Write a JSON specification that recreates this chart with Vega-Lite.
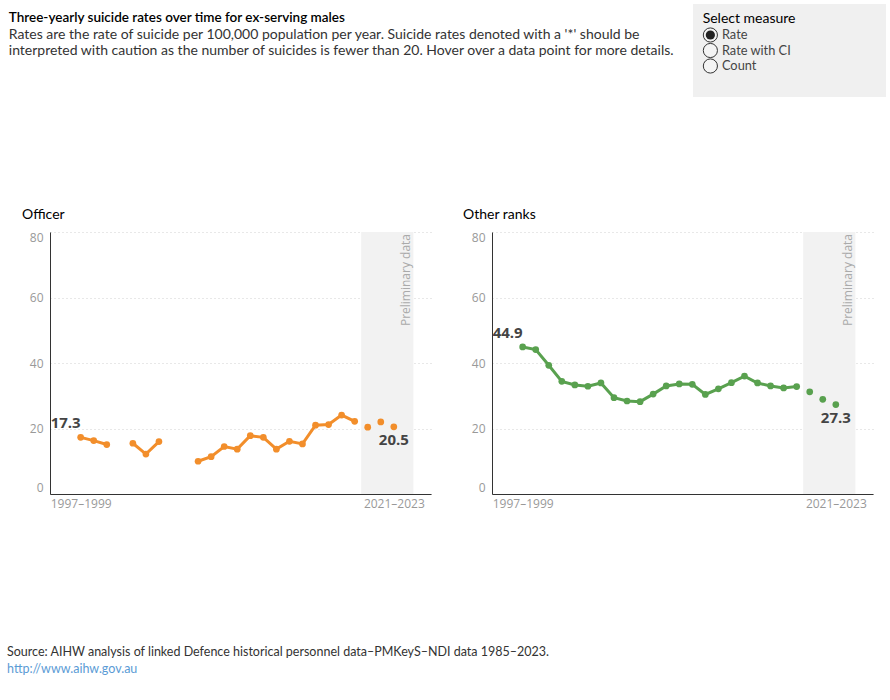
{
  "$schema": "https://vega.github.io/schema/vega-lite/v6.json",
  "padding": {"left": 7, "top": 4, "right": 2, "bottom": 0},
  "background": "white",
  "config": {
    "view": {"stroke": null},
    "font": "Lato",
    "axis": {"labelFont": "Open Sans", "labelFontSize": 12, "labelColor": "#999999", "ticks": false, "title": null, "domainColor": "#333333"}
  },
  "datasets": {
    "rates": [
      {"rank": "Officer", "start": 1997, "period": "1997–1999", "rate": 17.3, "status": "Final"},
      {"rank": "Officer", "start": 1998, "period": "1998–2000", "rate": 16.3, "status": "Final"},
      {"rank": "Officer", "start": 1999, "period": "1999–2001", "rate": 15.1, "status": "Final"},
      {"rank": "Officer", "start": 2000, "period": "2000–2002", "rate": null, "status": "Final"},
      {"rank": "Officer", "start": 2001, "period": "2001–2003", "rate": 15.5, "status": "Final"},
      {"rank": "Officer", "start": 2002, "period": "2002–2004", "rate": 12.2, "status": "Final"},
      {"rank": "Officer", "start": 2003, "period": "2003–2005", "rate": 16.0, "status": "Final"},
      {"rank": "Officer", "start": 2004, "period": "2004–2006", "rate": null, "status": "Final"},
      {"rank": "Officer", "start": 2005, "period": "2005–2007", "rate": null, "status": "Final"},
      {"rank": "Officer", "start": 2006, "period": "2006–2008", "rate": 10.0, "status": "Final"},
      {"rank": "Officer", "start": 2007, "period": "2007–2009", "rate": 11.4, "status": "Final"},
      {"rank": "Officer", "start": 2008, "period": "2008–2010", "rate": 14.5, "status": "Final"},
      {"rank": "Officer", "start": 2009, "period": "2009–2011", "rate": 13.7, "status": "Final"},
      {"rank": "Officer", "start": 2010, "period": "2010–2012", "rate": 17.8, "status": "Final"},
      {"rank": "Officer", "start": 2011, "period": "2011–2013", "rate": 17.3, "status": "Final"},
      {"rank": "Officer", "start": 2012, "period": "2012–2014", "rate": 13.7, "status": "Final"},
      {"rank": "Officer", "start": 2013, "period": "2013–2015", "rate": 16.1, "status": "Final"},
      {"rank": "Officer", "start": 2014, "period": "2014–2016", "rate": 15.3, "status": "Final"},
      {"rank": "Officer", "start": 2015, "period": "2015–2017", "rate": 21.0, "status": "Final"},
      {"rank": "Officer", "start": 2016, "period": "2016–2018", "rate": 21.2, "status": "Final"},
      {"rank": "Officer", "start": 2017, "period": "2017–2019", "rate": 24.1, "status": "Final"},
      {"rank": "Officer", "start": 2018, "period": "2018–2020", "rate": 22.2, "status": "Final"},
      {"rank": "Officer", "start": 2019, "period": "2019–2021", "rate": 20.4, "status": "Preliminary"},
      {"rank": "Officer", "start": 2020, "period": "2020–2022", "rate": 22.0, "status": "Preliminary"},
      {"rank": "Officer", "start": 2021, "period": "2021–2023", "rate": 20.5, "status": "Preliminary"},
      {"rank": "Other ranks", "start": 1997, "period": "1997–1999", "rate": 44.9, "status": "Final"},
      {"rank": "Other ranks", "start": 1998, "period": "1998–2000", "rate": 44.1, "status": "Final"},
      {"rank": "Other ranks", "start": 1999, "period": "1999–2001", "rate": 39.3, "status": "Final"},
      {"rank": "Other ranks", "start": 2000, "period": "2000–2002", "rate": 34.4, "status": "Final"},
      {"rank": "Other ranks", "start": 2001, "period": "2001–2003", "rate": 33.3, "status": "Final"},
      {"rank": "Other ranks", "start": 2002, "period": "2002–2004", "rate": 32.9, "status": "Final"},
      {"rank": "Other ranks", "start": 2003, "period": "2003–2005", "rate": 33.9, "status": "Final"},
      {"rank": "Other ranks", "start": 2004, "period": "2004–2006", "rate": 29.4, "status": "Final"},
      {"rank": "Other ranks", "start": 2005, "period": "2005–2007", "rate": 28.4, "status": "Final"},
      {"rank": "Other ranks", "start": 2006, "period": "2006–2008", "rate": 28.2, "status": "Final"},
      {"rank": "Other ranks", "start": 2007, "period": "2007–2009", "rate": 30.5, "status": "Final"},
      {"rank": "Other ranks", "start": 2008, "period": "2008–2010", "rate": 33.0, "status": "Final"},
      {"rank": "Other ranks", "start": 2009, "period": "2009–2011", "rate": 33.6, "status": "Final"},
      {"rank": "Other ranks", "start": 2010, "period": "2010–2012", "rate": 33.5, "status": "Final"},
      {"rank": "Other ranks", "start": 2011, "period": "2011–2013", "rate": 30.4, "status": "Final"},
      {"rank": "Other ranks", "start": 2012, "period": "2012–2014", "rate": 32.1, "status": "Final"},
      {"rank": "Other ranks", "start": 2013, "period": "2013–2015", "rate": 34.0, "status": "Final"},
      {"rank": "Other ranks", "start": 2014, "period": "2014–2016", "rate": 36.0, "status": "Final"},
      {"rank": "Other ranks", "start": 2015, "period": "2015–2017", "rate": 33.9, "status": "Final"},
      {"rank": "Other ranks", "start": 2016, "period": "2016–2018", "rate": 33.0, "status": "Final"},
      {"rank": "Other ranks", "start": 2017, "period": "2017–2019", "rate": 32.4, "status": "Final"},
      {"rank": "Other ranks", "start": 2018, "period": "2018–2020", "rate": 32.8, "status": "Final"},
      {"rank": "Other ranks", "start": 2019, "period": "2019–2021", "rate": 31.2, "status": "Preliminary"},
      {"rank": "Other ranks", "start": 2020, "period": "2020–2022", "rate": 28.9, "status": "Preliminary"},
      {"rank": "Other ranks", "start": 2021, "period": "2021–2023", "rate": 27.3, "status": "Preliminary"}
    ],
    "band": [{"from": 2018.5, "to": 2022.5, "note": "Preliminary data"}]
  },
  "vconcat": [
    {
      "spacing": 5,
      "hconcat": [
        {
          "width": 638,
          "height": 93,
          "data": {"values": [
            {"line": 1, "text": "Three-yearly suicide rates over time for ex-serving males", "kind": "title"},
            {"line": 2, "text": "Rates are the rate of suicide per 100,000 population per year. Suicide rates denoted with a '*' should be", "kind": "body"},
            {"line": 3, "text": "interpreted with caution as the number of suicides is fewer than 20. Hover over a data point for more details.", "kind": "body"}
          ]},
          "layer": [
            {
              "transform": [{"filter": "datum.kind === 'title'"}],
              "mark": {"type": "text", "align": "left", "baseline": "middle", "dy": -2, "font": "Lato", "fontSize": 13.5, "fontWeight": 600, "color": "#000000"},
              "encoding": {
                "x": {"datum": -42, "type": "quantitative", "scale": {"domain": [0, 638]}, "axis": null},
                "y": {"field": "line", "type": "quantitative", "scale": {"domain": [0.26, 5.73], "reverse": true}, "axis": null},
                "text": {"field": "text"}
              }
            },
            {
              "transform": [{"filter": "datum.kind === 'body'"}],
              "mark": {"type": "text", "align": "left", "baseline": "middle", "font": "Lato", "fontSize": 14, "color": "#333333"},
              "encoding": {
                "x": {"datum": -42, "type": "quantitative"},
                "y": {"field": "line", "type": "quantitative"},
                "text": {"field": "text"}
              }
            }
          ]
        },
        {
          "width": 193,
          "height": 93,
          "view": {"fill": "#f0f0f0", "stroke": null},
          "data": {"values": [
            {"line": 1, "text": "Select measure", "kind": "header", "selected": false},
            {"line": 2, "text": "Rate", "kind": "option", "selected": true},
            {"line": 3, "text": "Rate with CI", "kind": "option", "selected": false},
            {"line": 4, "text": "Count", "kind": "option", "selected": false}
          ]},
          "layer": [
            {
              "transform": [{"filter": "datum.kind === 'header'"}],
              "mark": {"type": "text", "align": "left", "baseline": "middle", "dy": -1, "font": "Lato", "fontSize": 14, "color": "#000000"},
              "encoding": {
                "x": {"datum": 10, "type": "quantitative", "scale": {"domain": [0, 193]}, "axis": null},
                "y": {"field": "line", "type": "quantitative", "scale": {"domain": [0.3, 5.7], "reverse": true}, "axis": null},
                "text": {"field": "text"}
              }
            },
            {
              "transform": [{"filter": "datum.kind === 'option'"}],
              "mark": {"type": "point", "filled": false, "shape": "circle", "size": 200, "stroke": "#333333", "strokeWidth": 1, "fill": "#ffffff", "fillOpacity": 0.3},
              "encoding": {
                "x": {"datum": 18, "type": "quantitative"},
                "y": {"field": "line", "type": "quantitative"}
              }
            },
            {
              "transform": [{"filter": "datum.kind === 'option' && datum.selected"}],
              "mark": {"type": "point", "filled": true, "shape": "circle", "size": 85, "color": "#222222", "opacity": 1},
              "encoding": {
                "x": {"datum": 18, "type": "quantitative"},
                "y": {"field": "line", "type": "quantitative"}
              }
            },
            {
              "transform": [{"filter": "datum.kind === 'option'"}],
              "mark": {"type": "text", "align": "left", "baseline": "middle", "font": "Lato", "fontSize": 12.8, "color": "#444444"},
              "encoding": {
                "x": {"datum": 30, "type": "quantitative"},
                "y": {"field": "line", "type": "quantitative"},
                "text": {"field": "text"}
              }
            }
          ]
        }
      ]
    },
    {
      "spacing": 32,
      "hconcat": [
        {
          "width": 381,
          "height": 262,
          "title": {"text": "Officer", "anchor": "start", "frame": "group", "dx": -28, "offset": 9, "font": "Lato", "fontSize": 14, "fontWeight": "normal", "color": "#000000"},
          "layer": [
            {
              "data": {"name": "band"},
              "mark": {"type": "rect", "color": "#f2f2f2"},
              "encoding": {
                "x": {"field": "from", "type": "quantitative", "scale": {"domain": [1994.65, 2023.85], "nice": false, "zero": false},
                      "axis": {"values": [1997, 2021], "labelExpr": "datum.value + '–' + (datum.value + 2)", "grid": false, "labelPadding": 4, "zindex": 1}},
                "x2": {"field": "to"}
              }
            },
            {
              "data": {"name": "rates"},
              "transform": [{"filter": "datum.rank === 'Officer' && datum.status === 'Final'"}],
              "mark": {"type": "line", "color": "#f28e2b", "strokeWidth": 3, "invalid": "break-paths-show-domains"},
              "encoding": {
                "x": {"field": "start", "type": "quantitative"},
                "y": {"field": "rate", "type": "quantitative", "scale": {"domain": [0, 80], "nice": false},
                      "axis": {"values": [0, 20, 40, 60, 80], "grid": true, "gridDash": [1, 3], "gridColor": "#d0d0d0", "labelFlush": true, "labelPadding": 7}}
              }
            },
            {
              "data": {"name": "rates"},
              "transform": [{"filter": "datum.rank === 'Officer' && datum.rate != null"}],
              "mark": {"type": "point", "filled": true, "size": 45, "color": "#f28e2b", "opacity": 1},
              "encoding": {
                "x": {"field": "start", "type": "quantitative"},
                "y": {"field": "rate", "type": "quantitative"}
              }
            },
            {
              "data": {"name": "rates"},
              "transform": [{"filter": "datum.rank === 'Officer' && datum.start === 1997"}],
              "mark": {"type": "text", "align": "right", "baseline": "bottom", "dy": -6, "font": "Open Sans", "fontSize": 15, "fontWeight": "bold", "color": "#444444"},
              "encoding": {
                "x": {"field": "start", "type": "quantitative"},
                "y": {"field": "rate", "type": "quantitative"},
                "text": {"field": "rate", "type": "quantitative", "format": ".1f"}
              }
            },
            {
              "data": {"name": "rates"},
              "transform": [{"filter": "datum.rank === 'Officer' && datum.start === 2021"}],
              "mark": {"type": "text", "align": "center", "baseline": "top", "dy": 6, "font": "Open Sans", "fontSize": 15, "fontWeight": "bold", "color": "#444444"},
              "encoding": {
                "x": {"field": "start", "type": "quantitative"},
                "y": {"field": "rate", "type": "quantitative"},
                "text": {"field": "rate", "type": "quantitative", "format": ".1f"}
              }
            },
            {
              "data": {"name": "band"},
              "mark": {"type": "text", "angle": 270, "align": "right", "baseline": "bottom", "dx": -2, "font": "Open Sans", "fontSize": 12, "color": "#aaaaaa"},
              "encoding": {
                "x": {"field": "to", "type": "quantitative"},
                "y": {"datum": 80, "type": "quantitative"},
                "text": {"field": "note"}
              }
            }
          ]
        },
        {
          "width": 381,
          "height": 262,
          "title": {"text": "Other ranks", "anchor": "start", "frame": "group", "dx": -29, "offset": 9, "font": "Lato", "fontSize": 14, "fontWeight": "normal", "color": "#000000"},
          "layer": [
            {
              "data": {"name": "band"},
              "mark": {"type": "rect", "color": "#f2f2f2"},
              "encoding": {
                "x": {"field": "from", "type": "quantitative", "scale": {"domain": [1994.65, 2023.85], "nice": false, "zero": false},
                      "axis": {"values": [1997, 2021], "labelExpr": "datum.value + '–' + (datum.value + 2)", "grid": false, "labelPadding": 4, "zindex": 1}},
                "x2": {"field": "to"}
              }
            },
            {
              "data": {"name": "rates"},
              "transform": [{"filter": "datum.rank === 'Other ranks' && datum.status === 'Final'"}],
              "mark": {"type": "line", "color": "#59a14f", "strokeWidth": 3, "invalid": "break-paths-show-domains"},
              "encoding": {
                "x": {"field": "start", "type": "quantitative"},
                "y": {"field": "rate", "type": "quantitative", "scale": {"domain": [0, 80], "nice": false},
                      "axis": {"values": [0, 20, 40, 60, 80], "grid": true, "gridDash": [1, 3], "gridColor": "#d0d0d0", "labelFlush": true, "labelPadding": 7}}
              }
            },
            {
              "data": {"name": "rates"},
              "transform": [{"filter": "datum.rank === 'Other ranks' && datum.rate != null"}],
              "mark": {"type": "point", "filled": true, "size": 45, "color": "#59a14f", "opacity": 1},
              "encoding": {
                "x": {"field": "start", "type": "quantitative"},
                "y": {"field": "rate", "type": "quantitative"}
              }
            },
            {
              "data": {"name": "rates"},
              "transform": [{"filter": "datum.rank === 'Other ranks' && datum.start === 1997"}],
              "mark": {"type": "text", "align": "right", "baseline": "bottom", "dy": -6, "font": "Open Sans", "fontSize": 15, "fontWeight": "bold", "color": "#444444"},
              "encoding": {
                "x": {"field": "start", "type": "quantitative"},
                "y": {"field": "rate", "type": "quantitative"},
                "text": {"field": "rate", "type": "quantitative", "format": ".1f"}
              }
            },
            {
              "data": {"name": "rates"},
              "transform": [{"filter": "datum.rank === 'Other ranks' && datum.start === 2021"}],
              "mark": {"type": "text", "align": "center", "baseline": "top", "dy": 6, "font": "Open Sans", "fontSize": 15, "fontWeight": "bold", "color": "#444444"},
              "encoding": {
                "x": {"field": "start", "type": "quantitative"},
                "y": {"field": "rate", "type": "quantitative"},
                "text": {"field": "rate", "type": "quantitative", "format": ".1f"}
              }
            },
            {
              "data": {"name": "band"},
              "mark": {"type": "text", "angle": 270, "align": "right", "baseline": "bottom", "dx": -2, "font": "Open Sans", "fontSize": 12, "color": "#aaaaaa"},
              "encoding": {
                "x": {"field": "to", "type": "quantitative"},
                "y": {"datum": 80, "type": "quantitative"},
                "text": {"field": "note"}
              }
            }
          ]
        }
      ]
    },
    {
      "width": 600,
      "height": 60,
      "data": {"values": [
        {"line": 1, "text": "Source: AIHW analysis of linked Defence historical personnel data–PMKeyS–NDI data 1985–2023.", "kind": "source"},
        {"line": 2, "text": "http://www.aihw.gov.au", "kind": "link"}
      ]},
      "mark": {"type": "text", "align": "left", "baseline": "middle", "font": "Lato", "fontSize": 12.5},
      "encoding": {
        "x": {"datum": -43, "type": "quantitative", "scale": {"domain": [0, 600]}, "axis": null},
        "y": {"field": "line", "type": "quantitative", "scale": {"domain": [-0.883, 2.646], "reverse": true}, "axis": null},
        "text": {"field": "text"},
        "color": {"field": "kind", "type": "nominal", "scale": {"domain": ["source", "link"], "range": ["#333333", "#5b9bd5"]}, "legend": null}
      }
    }
  ],
  "spacing": 111
}
